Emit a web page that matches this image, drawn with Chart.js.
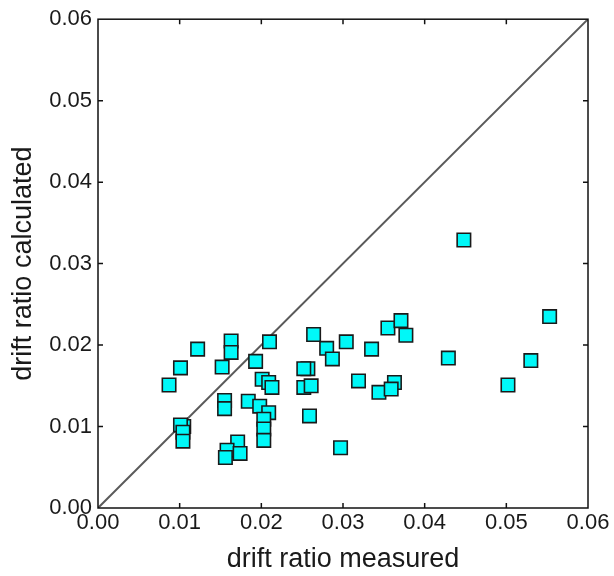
<!DOCTYPE html>
<html>
<head>
<meta charset="utf-8">
<script src="https://cdn.jsdelivr.net/npm/chart.js@4/dist/chart.umd.min.js"></script>
<style>
  html, body { margin: 0; padding: 0; background: #fff; }
  #wrap { width: 614px; height: 576px; }
</style>
</head>
<body>
<div id="wrap"><canvas id="grafico"></canvas></div>
<script>
// drift ratio measured (x) vs calculated (y)
const medido = [
  0.0087, 0.0101, 0.0122, 0.0163, 0.0163, 0.0152, 0.0193, 0.0210, 0.0201, 0.0209,
  0.0213, 0.0155, 0.0155, 0.0184, 0.0198, 0.0209, 0.0203, 0.0203, 0.0203, 0.0105,
  0.0101, 0.0104, 0.0104, 0.0171, 0.0158, 0.0156, 0.0174, 0.0264, 0.0280, 0.0287,
  0.0304, 0.0335, 0.0355, 0.0371, 0.0377, 0.0429, 0.0257, 0.0252, 0.0252, 0.0261,
  0.0259, 0.0319, 0.0344, 0.0363, 0.0359, 0.0297, 0.0448, 0.0553, 0.0530, 0.0502
];
const calculado = [
  0.0151, 0.0172, 0.0195, 0.0205, 0.0191, 0.0173, 0.0180, 0.0204, 0.0158, 0.0154,
  0.0148, 0.0132, 0.0122, 0.0131, 0.0125, 0.0117, 0.0109, 0.0097, 0.0083, 0.0100,
  0.0102, 0.0093, 0.0082, 0.0081, 0.0071, 0.0062, 0.0067, 0.0213, 0.0196, 0.0183,
  0.0204, 0.0195, 0.0221, 0.0230, 0.0212, 0.0184, 0.0171, 0.0171, 0.0148, 0.0150,
  0.0113, 0.0156, 0.0142, 0.0154, 0.0146, 0.0074, 0.0329, 0.0235, 0.0181, 0.0151
];
const linha11 = [0, 0.06];
const ticksEixo = [0, 0.01, 0.02, 0.03, 0.04, 0.05, 0.06];

const pontos = medido.map((x, i) => ({ x: x, y: calculado[i] }));
const diagonal = linha11.map(v => ({ x: v, y: v }));

// moldura com ticks para dentro nos quatro lados
const moldura = {
  id: 'moldura',
  afterDatasetsDraw(chart) {
    const { ctx, chartArea: a, scales } = chart;
    ctx.save();
    ctx.strokeStyle = '#111';
    ctx.lineWidth = 1.5;
    ctx.strokeRect(a.left, a.top, a.right - a.left, a.bottom - a.top);
    const len = 5;
    ctx.beginPath();
    ticksEixo.slice(1, -1).forEach(v => {
      const px = scales.x.getPixelForValue(v);
      ctx.moveTo(px, a.bottom); ctx.lineTo(px, a.bottom - len);
      ctx.moveTo(px, a.top); ctx.lineTo(px, a.top + len);
      const py = scales.y.getPixelForValue(v);
      ctx.moveTo(a.left, py); ctx.lineTo(a.left + len, py);
      ctx.moveTo(a.right, py); ctx.lineTo(a.right - len, py);
    });
    ctx.stroke();
    ctx.restore();
  }
};

const fonteTicks = { family: 'Liberation Sans, Arial, sans-serif', size: 22 };
const fonteTitulo = { family: 'Liberation Sans, Arial, sans-serif', size: 27 };

new Chart(document.getElementById('grafico').getContext('2d'), {
  type: 'scatter',
  data: {
    datasets: [
      {
        label: '1:1',
        type: 'line',
        data: diagonal,
        borderColor: '#5a5a5a',
        borderWidth: 2,
        pointRadius: 0,
        fill: false,
        order: 2
      },
      {
        label: 'drift ratio',
        data: pontos,
        pointStyle: 'rect',
        pointRadius: 9.5,
        pointHoverRadius: 9.5,
        backgroundColor: '#00f8f8',
        borderColor: '#1a1a1a',
        borderWidth: 1.6,
        order: 1
      }
    ]
  },
  options: {
    responsive: true,
    maintainAspectRatio: false,
    animation: false,
    layout: { padding: { top: 19, right: 26, left: 7, bottom: 0 } },
    plugins: {
      legend: { display: false },
      tooltip: { enabled: false }
    },
    scales: {
      x: {
        type: 'linear',
        min: 0,
        max: 0.06,
        grid: { display: false, drawTicks: false },
        border: { display: false },
        afterBuildTicks: s => { s.ticks = ticksEixo.map(v => ({ value: v })); },
        ticks: {
          padding: 2,
          color: '#1a1a1a',
          font: fonteTicks,
          maxRotation: 0,
          autoSkip: false,
          callback: v => v.toFixed(2)
        },
        title: {
          display: true,
          text: 'drift ratio measured',
          color: '#1a1a1a',
          font: fonteTitulo,
          padding: { top: 0, bottom: 0 }
        },
        afterFit: s => { s.height = 68; }
      },
      y: {
        type: 'linear',
        min: 0,
        max: 0.06,
        grid: { display: false, drawTicks: false },
        border: { display: false },
        afterBuildTicks: s => { s.ticks = ticksEixo.map(v => ({ value: v })); },
        ticks: {
          padding: 6,
          color: '#1a1a1a',
          font: fonteTicks,
          autoSkip: false,
          callback: v => v.toFixed(2)
        },
        title: {
          display: true,
          text: 'drift ratio calculated',
          color: '#1a1a1a',
          font: fonteTitulo,
          padding: { top: 0, bottom: 0 }
        },
        afterFit: s => { s.width = 91; }
      }
    }
  },
  plugins: [moldura]
});
</script>
</body>
</html>
